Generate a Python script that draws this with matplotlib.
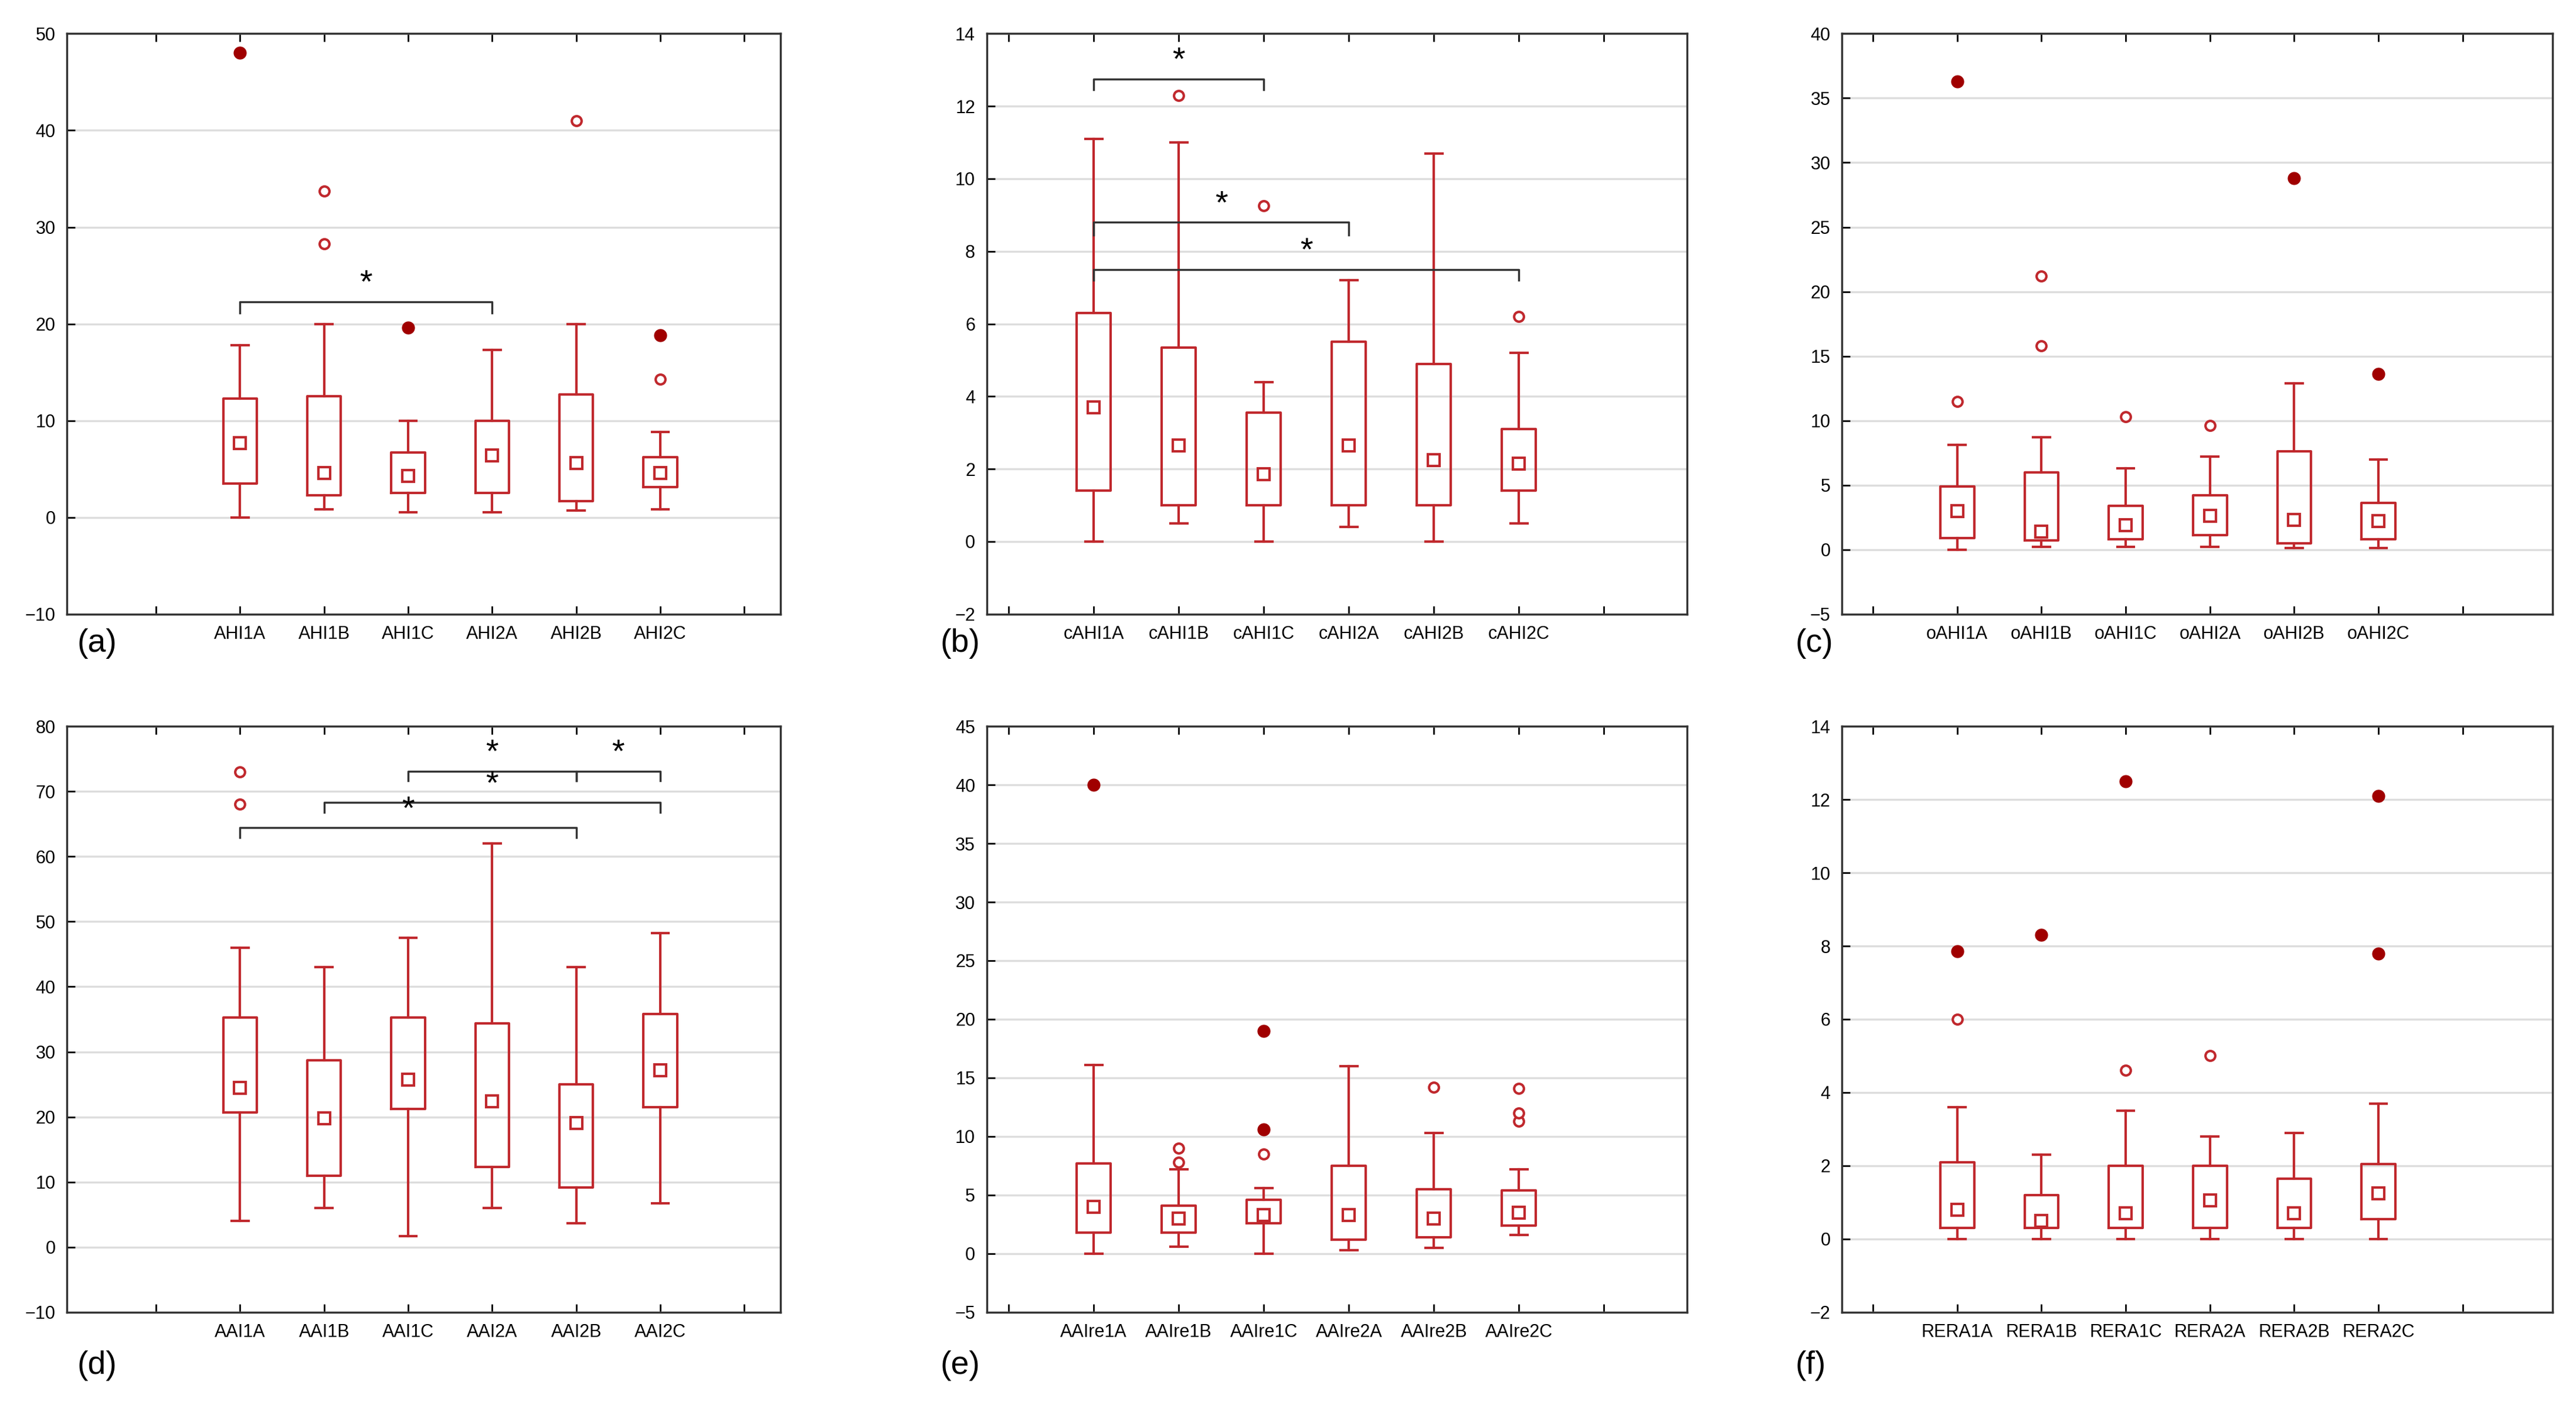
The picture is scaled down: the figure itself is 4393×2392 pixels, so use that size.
import matplotlib.pyplot as plt

plt.rcParams['font.family'] = 'Liberation Sans'

RED = '#c0282d'
DARK = '#a00000'

# stats per panel: (low whisker, q1, median, q3, high whisker, outliers, extremes)
names_a = ['AHI1A', 'AHI1B', 'AHI1C', 'AHI2A', 'AHI2B', 'AHI2C']
stats_a = [(0, 3.5, 7.7, 12.3, 17.8, [], [48]),
           (0.8, 2.3, 4.6, 12.5, 20, [33.7, 28.3], []),
           (0.5, 2.5, 4.3, 6.7, 10, [], [19.6]),
           (0.5, 2.5, 6.4, 10, 17.3, [], []),
           (0.7, 1.7, 5.6, 12.7, 20, [41], []),
           (0.8, 3.1, 4.6, 6.2, 8.8, [14.3], [18.8])]
brackets_a = [(0, 3, 22.3, 21.1)]

names_b = ['cAHI1A', 'cAHI1B', 'cAHI1C', 'cAHI2A', 'cAHI2B', 'cAHI2C']
stats_b = [(0, 1.4, 3.7, 6.3, 11.1, [], []),
           (0.5, 1.0, 2.65, 5.35, 11.0, [12.3], []),
           (0, 1.0, 1.85, 3.55, 4.4, [9.25], []),
           (0.4, 1.0, 2.65, 5.5, 7.2, [], []),
           (0, 1.0, 2.25, 4.9, 10.7, [], []),
           (0.5, 1.4, 2.15, 3.1, 5.2, [6.2], [])]
brackets_b = [(0, 2, 12.75, 12.45), (0, 3, 8.8, 8.45), (0, 5, 7.5, 7.2)]

names_c = ['oAHI1A', 'oAHI1B', 'oAHI1C', 'oAHI2A', 'oAHI2B', 'oAHI2C']
stats_c = [(0, 0.9, 3.0, 4.9, 8.1, [11.5], [36.3]),
           (0.2, 0.7, 1.4, 6.0, 8.7, [15.8, 21.2], []),
           (0.2, 0.8, 1.9, 3.4, 6.3, [10.3], []),
           (0.2, 1.1, 2.6, 4.2, 7.2, [9.6], []),
           (0.1, 0.5, 2.3, 7.6, 12.9, [], [28.8]),
           (0.1, 0.8, 2.2, 3.6, 7.0, [], [13.6])]
brackets_c = []

names_d = ['AAI1A', 'AAI1B', 'AAI1C', 'AAI2A', 'AAI2B', 'AAI2C']
stats_d = [(4, 20.7, 24.5, 35.3, 46, [68, 73], []),
           (6, 11, 19.8, 28.7, 43, [], []),
           (1.7, 21.2, 25.7, 35.3, 47.5, [], []),
           (6, 12.3, 22.4, 34.4, 62, [], []),
           (3.7, 9.2, 19.1, 25, 43, [], []),
           (6.7, 21.5, 27.2, 35.8, 48.2, [], [])]
brackets_d = [(2, 4, 73.1, 71.6), (4, 5, 73.1, 71.6), (1, 5, 68.3, 66.8), (0, 4, 64.4, 62.9)]

names_e = ['AAIre1A', 'AAIre1B', 'AAIre1C', 'AAIre2A', 'AAIre2B', 'AAIre2C']
stats_e = [(0, 1.8, 4.0, 7.7, 16.1, [], [40]),
           (0.6, 1.8, 3.0, 4.1, 7.2, [7.8, 9.0], []),
           (0, 2.6, 3.3, 4.6, 5.6, [8.5], [10.6, 19.0]),
           (0.3, 1.2, 3.3, 7.5, 16, [], []),
           (0.5, 1.4, 3.0, 5.5, 10.3, [14.2], []),
           (1.6, 2.4, 3.5, 5.4, 7.2, [11.3, 12, 14.1], [])]
brackets_e = []

names_f = ['RERA1A', 'RERA1B', 'RERA1C', 'RERA2A', 'RERA2B', 'RERA2C']
stats_f = [(0, 0.3, 0.8, 2.1, 3.6, [6.0], [7.85]),
           (0, 0.3, 0.5, 1.2, 2.3, [], [8.3]),
           (0, 0.3, 0.7, 2.0, 3.5, [4.6], [12.5]),
           (0, 0.3, 1.05, 2.0, 2.8, [5.0], []),
           (0, 0.3, 0.7, 1.65, 2.9, [], []),
           (0, 0.55, 1.25, 2.05, 3.7, [], [7.8, 12.1])]
brackets_f = []

panels = [
    ('(a)', names_a, stats_a, brackets_a, (-10, 50), 10, [0.026, 0.562, 0.277, 0.414], (-1.06, 7.43)),
    ('(b)', names_b, stats_b, brackets_b, (-2, 14), 2, [0.383, 0.562, 0.272, 0.414], (-0.26, 7.98)),
    ('(c)', names_c, stats_c, brackets_c, (-5, 40), 5, [0.715, 0.562, 0.276, 0.414], (-0.37, 8.07)),
    ('(d)', names_d, stats_d, brackets_d, (-10, 80), 10, [0.026, 0.064, 0.277, 0.418], (-1.06, 7.43)),
    ('(e)', names_e, stats_e, brackets_e, (-5, 45), 5, [0.383, 0.064, 0.272, 0.418], (-0.26, 7.98)),
    ('(f)', names_f, stats_f, brackets_f, (-2, 14), 2, [0.715, 0.064, 0.276, 0.418], (-0.37, 8.07)),
]
label_pos = [(0.030, 0.535), (0.365, 0.535), (0.697, 0.535),
             (0.030, 0.02), (0.365, 0.02), (0.697, 0.02)]

fig = plt.figure(figsize=(43.93, 23.92), dpi=100)

for (lab, names, stats, brackets, ylim, step, rect, xlim), lp in zip(panels, label_pos):
    ax = fig.add_axes(rect)
    bxp_stats = []
    for n, s in zip(names, stats):
        bxp_stats.append(dict(label=n, whislo=s[0], q1=s[1], med=s[2], q3=s[3],
                              whishi=s[4], fliers=[]))
    pos = list(range(1, len(names) + 1))
    ax.bxp(bxp_stats, positions=pos, widths=0.4, showfliers=False,
           boxprops=dict(color=RED, lw=3),
           whiskerprops=dict(color=RED, lw=3),
           capprops=dict(color=RED, lw=3),
           medianprops=dict(visible=False))
    meds = [s[2] for s in stats]
    ax.plot(pos, meds, ls='none', marker='s', ms=14, mfc='white', mec=RED, mew=3, zorder=4)
    for p, s in zip(pos, stats):
        if s[5]:
            ax.plot([p] * len(s[5]), s[5], ls='none', marker='o', ms=12,
                    mfc='white', mec=RED, mew=3, zorder=4)
        if s[6]:
            ax.plot([p] * len(s[6]), s[6], ls='none', marker='o', ms=15,
                    mfc=DARK, mec=DARK, zorder=4)
    for i, j, yb, yt in brackets:
        ax.plot([pos[i], pos[i], pos[j], pos[j]], [yt, yb, yb, yt], color='#333333', lw=2.5)
        ax.text((pos[i] + pos[j]) / 2, yb + (ylim[1] - ylim[0]) * 0.004, '*',
                ha='center', va='bottom', fontsize=40)
    ax.set_xlim(*xlim)
    ax.set_ylim(*ylim)
    ax.set_xticks(range(0, 8))
    ax.set_xticklabels([''] + names + [''])
    ax.set_yticks(range(ylim[0], ylim[1] + 1, step))
    ax.yaxis.grid(True, color='#dddddd', lw=2.5)
    ax.set_axisbelow(True)
    ax.tick_params(direction='in', top=True, length=10, width=2, labelsize=22, pad=14)
    for sp in ax.spines.values():
        sp.set_linewidth(2.5)
        sp.set_color('#333333')
    fig.text(lp[0], lp[1], lab, fontsize=40)

fig.savefig('out.png', dpi=100)
